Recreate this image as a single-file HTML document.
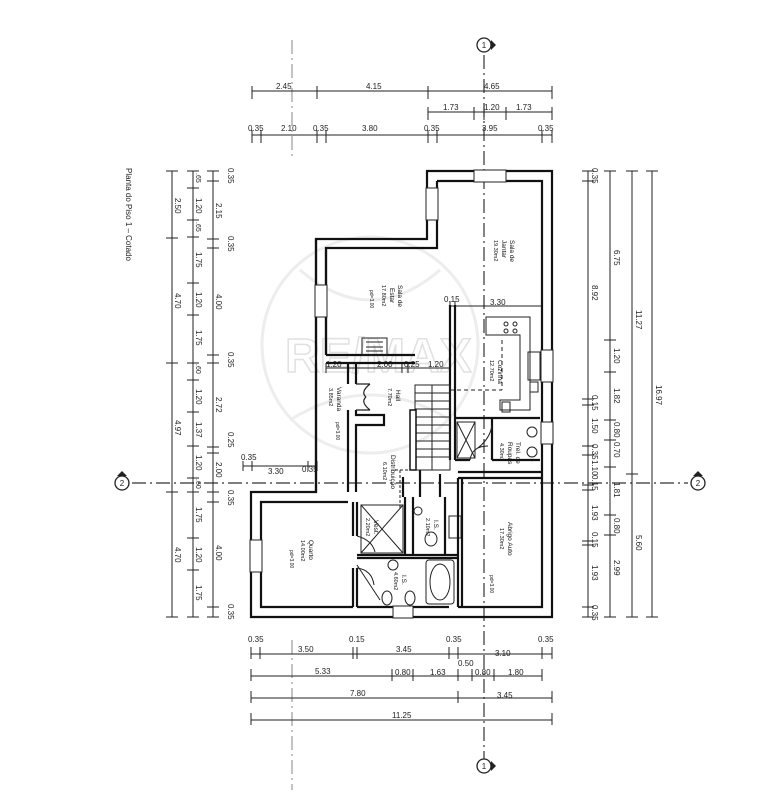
<!DOCTYPE html>
<html><head><meta charset="utf-8"><style>
html,body{margin:0;padding:0;background:#fff;}
svg{display:block;font-family:"Liberation Sans",sans-serif;}
.d{stroke:#222;stroke-width:1;fill:none}
.t{font-size:8px;fill:#222}
.w{fill:none;stroke:#111;stroke-width:2.2}
.thin{fill:none;stroke:#222;stroke-width:1}
.ax{stroke:#333;stroke-width:1.2;stroke-dasharray:14 4 2 4;fill:none}
.r{font-size:6.5px;fill:#111}
</style></head><body>
<svg width="764" height="800" viewBox="0 0 764 800" xmlns="http://www.w3.org/2000/svg">
<rect width="764" height="800" fill="#fff"/>
<!-- watermark -->
<g opacity="0.1" fill="none" stroke="#555" stroke-width="3">
<circle cx="370" cy="345" r="108"/>
<path d="M300 270 Q370 330 440 270 M290 420 Q370 370 450 420"/>
</g>
<text x="285" y="372" font-size="48" fill="none" stroke="#ccc" stroke-width="1.5" opacity="0.6" font-weight="bold">RE/MAX</text>

<!-- axes -->
<path class="ax" d="M484 55 V760"/>
<path class="ax" d="M132 483 H688"/>
<circle cx="484" cy="45" r="7" fill="#fff" stroke="#222" stroke-width="1.3"/><path d="M491 40 L496 45 L491 50Z" fill="#222"/><text x="484" y="48" class="t" text-anchor="middle" font-size="6">1</text>
<circle cx="484" cy="766" r="7" fill="#fff" stroke="#222" stroke-width="1.3"/><path d="M491 761 L496 766 L491 771Z" fill="#222"/><text x="484" y="769" class="t" text-anchor="middle" font-size="6">1</text>
<circle cx="122" cy="483" r="7" fill="#fff" stroke="#222" stroke-width="1.3"/><path d="M117 476 L122 471 L127 476Z" fill="#222"/><text x="122" y="486" class="t" text-anchor="middle" font-size="6">2</text>
<circle cx="698" cy="483" r="7" fill="#fff" stroke="#222" stroke-width="1.3"/><path d="M693 476 L698 471 L703 476Z" fill="#222"/><text x="698" y="486" class="t" text-anchor="middle" font-size="6">2</text>
<path class="ax" d="M292 40 V160 M292 640 V790" stroke-width="0.6" opacity="0.5"/>

<!-- title -->
<text class="t" font-size="11" transform="translate(126,168) rotate(90)">Planta do Piso 1 – Cotado</text>

<!-- top dims -->
<g class="d">
<path d="M252 91H552 M252 86V99 M317 86V99 M428 86V99 M552 86V99"/>
<path d="M428 112H552 M428 107V120 M474 107V120 M484 107V120 M506 107V120 M552 107V120"/>
<path d="M252 135H552 M252 130V143 M261 130V143 M317 130V143 M326 130V143 M428 130V143 M437 130V143 M542 130V143 M552 130V143"/>
</g>
<g class="t">
<text x="276" y="89">2.45</text><text x="366" y="89">4.15</text><text x="484" y="89">4.65</text>
<text x="443" y="110">1.73</text><text x="484" y="110">1.20</text><text x="516" y="110">1.73</text>
<text x="248" y="131">0.35</text><text x="281" y="131">2.10</text><text x="313" y="131">0.35</text><text x="362" y="131">3.80</text><text x="424" y="131">0.35</text><text x="482" y="131">3.95</text><text x="538" y="131">0.35</text>
</g>

<!-- left dims -->
<g class="d">
<path d="M172 171V617 M166 171H178 M166 238H178 M166 363H178 M166 492H178 M166 617H178"/>
<path d="M193 171V617 M187 171H199 M187 188H199 M187 220H199 M187 237H199 M187 283H199 M187 315H199 M187 363H199 M187 380H199 M187 412H199 M187 446H199 M187 478H199 M187 492H199 M187 538H199 M187 570H199 M187 617H199"/>
<path d="M213 171V617 M207 171H219 M207 181H219 M207 239H219 M207 248H219 M207 355H219 M207 363H219 M207 447H219 M207 453H219 M207 492H219 M207 502H219 M207 607H219 M207 617H219"/>
</g>
<g class="t">
<g transform="translate(175,0)">
<text transform="translate(0,198) rotate(90)">2.50</text><text transform="translate(0,293) rotate(90)">4.70</text><text transform="translate(0,420) rotate(90)">4.97</text><text transform="translate(0,547) rotate(90)">4.70</text></g>
<g transform="translate(196,0)">
<text transform="translate(0,173) rotate(90)" font-size="7">.65</text><text transform="translate(0,198) rotate(90)">1.20</text><text transform="translate(0,222) rotate(90)" font-size="7">.65</text><text transform="translate(0,252) rotate(90)">1.75</text><text transform="translate(0,292) rotate(90)">1.20</text><text transform="translate(0,330) rotate(90)">1.75</text><text transform="translate(0,364) rotate(90)" font-size="7">.60</text><text transform="translate(0,389) rotate(90)">1.20</text><text transform="translate(0,422) rotate(90)">1.37</text><text transform="translate(0,455) rotate(90)">1.20</text><text transform="translate(0,479) rotate(90)" font-size="7">.60</text><text transform="translate(0,507) rotate(90)">1.75</text><text transform="translate(0,547) rotate(90)">1.20</text><text transform="translate(0,585) rotate(90)">1.75</text></g>
<g transform="translate(216,0)">
<text transform="translate(12,168) rotate(90)">0.35</text><text transform="translate(0,203) rotate(90)">2.15</text><text transform="translate(12,236) rotate(90)">0.35</text><text transform="translate(0,294) rotate(90)">4.00</text><text transform="translate(12,352) rotate(90)">0.35</text><text transform="translate(0,397) rotate(90)">2.72</text><text transform="translate(12,432) rotate(90)">0.25</text><text transform="translate(0,462) rotate(90)">2.00</text><text transform="translate(12,490) rotate(90)">0.35</text><text transform="translate(0,545) rotate(90)">4.00</text><text transform="translate(12,604) rotate(90)">0.35</text></g>
</g>

<!-- right dims -->
<g class="d">
<path d="M588 171V617 M582 171H594 M582 181H594 M582 399H594 M582 405H594 M582 446H594 M582 455H594 M582 485H594 M582 490H594 M582 541H594 M582 545H594 M582 607H594 M582 617H594"/>
<path d="M610 171V617 M604 171H616 M604 340H616 M604 372H616 M604 420H616 M604 440H616 M604 467H616 M604 515H616 M604 535H616 M604 617H616"/>
<path d="M632 171V617 M626 171H638 M626 474H638 M626 617H638"/>
<path d="M652 171V617 M646 171H658 M646 617H658"/>
</g>
<g class="t">
<g transform="translate(592,0)"><text transform="translate(0,168) rotate(90)">0.35</text><text transform="translate(0,285) rotate(90)">8.92</text><text transform="translate(0,395) rotate(90)">0.15</text><text transform="translate(0,418) rotate(90)">1.50</text><text transform="translate(0,444) rotate(90)">0.35</text><text transform="translate(0,460) rotate(90)">1.10</text><text transform="translate(0,475) rotate(90)">0.15</text><text transform="translate(0,505) rotate(90)">1.93</text><text transform="translate(0,532) rotate(90)">0.15</text><text transform="translate(0,565) rotate(90)">1.93</text><text transform="translate(0,605) rotate(90)">0.35</text></g>
<g transform="translate(614,0)"><text transform="translate(0,250) rotate(90)">6.75</text><text transform="translate(0,348) rotate(90)">1.20</text><text transform="translate(0,388) rotate(90)">1.82</text><text transform="translate(0,422) rotate(90)">0.80</text><text transform="translate(0,442) rotate(90)">0.70</text><text transform="translate(0,482) rotate(90)">1.81</text><text transform="translate(0,518) rotate(90)">0.80</text><text transform="translate(0,560) rotate(90)">2.99</text></g>
<g transform="translate(636,0)"><text transform="translate(0,310) rotate(90)">11.27</text><text transform="translate(0,535) rotate(90)">5.60</text></g>
<g transform="translate(656,0)"><text transform="translate(0,385) rotate(90)">16.97</text></g>
</g>

<!-- bottom dims -->
<g class="d">
<path d="M251 654H552 M251 647V659 M260 647V659 M353 647V659 M357 647V659 M449 647V659 M458 647V659 M542 647V659 M552 647V659"/>
<path d="M251 676H542 M251 669V681 M392 669V681 M413 669V681 M458 669V681 M472 669V681 M494 669V681 M542 669V681"/>
<path d="M251 698H552 M251 691V703 M458 691V703 M552 691V703"/>
<path d="M251 720H552 M251 713V725 M552 713V725"/>
</g>
<g class="t">
<text x="248" y="642">0.35</text><text x="298" y="652">3.50</text><text x="349" y="642">0.15</text><text x="396" y="652">3.45</text><text x="446" y="642">0.35</text><text x="495" y="656">3.10</text><text x="538" y="642">0.35</text>
<text x="315" y="674">5.33</text><text x="395" y="675">0.80</text><text x="430" y="675">1.63</text><text x="458" y="666">0.50</text><text x="475" y="675">0.80</text><text x="508" y="675">1.80</text>
<text x="350" y="696">7.80</text><text x="497" y="698">3.45</text>
<text x="392" y="718">11.25</text>
</g>
<g class="d">
<path d="M243 466H317 M243 461V471 M252 461V471 M308 461V471 M317 461V471"/>
<path d="M326 368H450 M326 363V373 M402 363V373 M408 363V373 M450 363V373"/>
<path d="M450 306H542 M450 301V311 M455 301V311"/>
</g>
<g class="t"><text x="241" y="460">0.35</text><text x="268" y="474">3.30</text><text x="302" y="472">0.35</text>
<text x="326" y="367">1.20</text><text x="377" y="367">2.00</text><text x="404" y="367">0.25</text><text x="428" y="367">1.20</text>
<text x="444" y="302">0.15</text><text x="490" y="305">3.30</text></g>

<!-- walls outer -->
<path class="w" d="M427 171H552V617H251V492H316V239H427Z"/>
<path class="w" d="M437 181H542V607H458 M449 607H357 M353 607H261V502H348 M326 355V248H437V181"/>
<path class="w" d="M316 239V355 M326 248V355"/>
<!-- windows -->
<g fill="#fff" stroke="#222" stroke-width="1">
<rect x="474" y="170" width="32" height="12"/><rect x="426" y="188" width="12" height="32"/><rect x="315" y="285" width="12" height="32"/><rect x="250" y="540" width="12" height="32"/><rect x="541" y="350" width="12" height="32"/><rect x="541" y="422" width="12" height="22"/><rect x="393" y="606" width="20" height="12"/><rect x="449" y="516" width="12" height="22"/>
</g>
<!-- interior walls -->
<g class="w">
<path d="M326 355H415 M326 363H415"/>
<path d="M450 305V460 M455 305V460"/>
<path d="M316 363V492 M348 363V384 M356 363V384 M348 410V492 M356 410V415 H384 V425 H356 V492"/>
<path d="M455 418H540 M492 418V460 M455 460H470 M492 460H540"/>
<path d="M458 472H542 M458 478H542 M458 478V607 M462 478V607"/>
<path d="M353 502V536 M357 502V536 M353 568V607 M357 568V607"/>
<path d="M357 555H458 M357 558H458"/>
<path d="M405 497V555 M413 497V555 M445 497V555 M440 474V497"/>
<path d="M403 477V497 M420 470V497"/>
</g>
<g class="thin">
<!-- stairs -->
<rect x="415" y="385" width="35" height="85"/>
<path d="M415 393H450 M415 401H450 M415 409H450 M415 417H450 M415 425H450 M415 433H450 M415 441H450 M415 449H450 M415 457H450 M432 385V470"/>
<rect x="410" y="410" width="6" height="60" fill="#fff" stroke="#111" stroke-width="1.5"/>
<!-- fireplace -->
<rect x="362" y="338" width="25" height="17"/><path d="M366 342H383 M366 347H383 M366 351H383"/>
<!-- veranda doors -->
<path d="M356 384 H370 M356 410 H370 M370 384 Q360 392 366 397 M370 410 Q360 402 366 397" stroke-width="1.2"/>
<!-- kitchen counters -->
<path d="M486 317H530V410H500V400H520V335H486Z"/>
<circle cx="506" cy="324" r="2"/><circle cx="515" cy="324" r="2"/><circle cx="506" cy="331" r="2"/><circle cx="515" cy="331" r="2"/>
<rect x="528" y="352" width="12" height="28"/><rect x="530" y="382" width="8" height="10"/><rect x="502" y="402" width="8" height="10"/>
<path d="M502 340V390 M450 390H502" stroke-dasharray="4 3"/>
<!-- shafts -->
<rect x="457" y="422" width="18" height="36"/><path d="M457 422L475 458 M475 422L457 458"/>
<rect x="361" y="505" width="42" height="48"/><path d="M361 505L403 553 M403 505L361 553"/>
<circle cx="532" cy="432" r="5"/><circle cx="532" cy="452" r="5"/>
<!-- doors -->
<path d="M475 450 Q490 440 492 425 M470 460 Q472 446 488 446 M357 536 Q372 540 375 552 M357 568 Q372 570 374 585"/>
<!-- bath -->
<rect x="426" y="560" width="28" height="44" rx="3"/><ellipse cx="440" cy="582" rx="10" ry="18"/>
<ellipse cx="431" cy="539" rx="6" ry="7"/><ellipse cx="387" cy="598" rx="5" ry="7"/><ellipse cx="410" cy="598" rx="5" ry="7"/>
<circle cx="418" cy="511" r="4"/><circle cx="393" cy="565" r="5"/>
<path d="M357 565 L380 600" />
<path d="M400 470V510 M395 470H420" stroke-dasharray="3 2"/>
</g>

<!-- room labels -->
<g class="r">
<text transform="translate(510,240) rotate(90)">Sala de</text><text transform="translate(502,240) rotate(90)">Jantar</text><text transform="translate(494,240) rotate(90)" font-size="5.5">19.30m2</text>
<text transform="translate(398,285) rotate(90)">Sala de</text><text transform="translate(390,288) rotate(90)">Estar</text><text transform="translate(382,285) rotate(90)" font-size="5.5">17.80m2</text>
<text transform="translate(498,360) rotate(90)">Cozinha</text><text transform="translate(490,360) rotate(90)" font-size="5.5">12.70m2</text>
<text transform="translate(337,387) rotate(90)">Varanda</text><text transform="translate(329,388) rotate(90)" font-size="5.5">3.85m2</text>
<text transform="translate(396,390) rotate(90)">Hall</text><text transform="translate(388,388) rotate(90)" font-size="5.5">7.70m2</text>
<text transform="translate(391,455) rotate(90)">Distribuição</text><text transform="translate(383,462) rotate(90)" font-size="5.5">6.10m2</text>
<text transform="translate(516,442) rotate(90)">Trel. de</text><text transform="translate(508,442) rotate(90)">Roupas</text><text transform="translate(500,443) rotate(90)" font-size="5.5">4.30m2</text>
<text transform="translate(508,522) rotate(90)">Abrigo Auto</text><text transform="translate(500,528) rotate(90)" font-size="5.5">17.30m2</text>
<text transform="translate(309,540) rotate(90)">Quarto</text><text transform="translate(301,540) rotate(90)" font-size="5.5">14.00m2</text>
<text transform="translate(374,520) rotate(90)">Vest.</text><text transform="translate(366,518) rotate(90)" font-size="5.5">2.20m2</text>
<text transform="translate(434,520) rotate(90)">I.S.</text><text transform="translate(426,518) rotate(90)" font-size="5.5">2.10m2</text>
<text transform="translate(402,575) rotate(90)">I.S.</text><text transform="translate(394,572) rotate(90)" font-size="5.5">4.60m2</text>
<text transform="translate(336,422) rotate(90)" font-size="5">pd=3.00</text>
<text transform="translate(290,550) rotate(90)" font-size="5">pd=3.00</text>
<text transform="translate(490,575) rotate(90)" font-size="5">pd=3.00</text>
<text transform="translate(370,290) rotate(90)" font-size="5">pd=3.00</text>
</g>
</svg>
</body></html>
